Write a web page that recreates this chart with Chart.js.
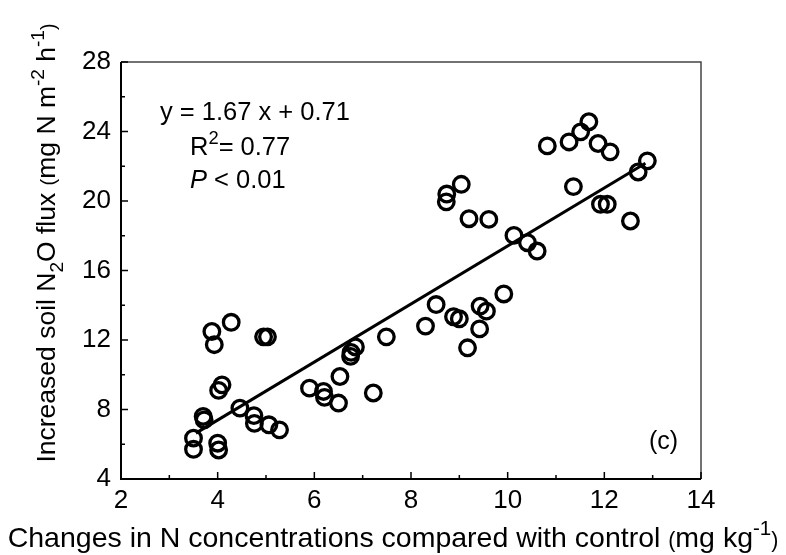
<!DOCTYPE html>
<html>
<head>
<meta charset="utf-8">
<script src="https://cdn.jsdelivr.net/npm/chart.js@4"></script>
<style>
  body { margin: 0; background: #fff; }
  canvas { display: block; }
</style>
</head>
<body>
<canvas id="chart" width="786" height="555"></canvas>
<script>
// Data
const nConc = [3.50, 3.50, 3.70, 3.72, 3.88, 3.93, 4.00, 4.02, 4.02, 4.09,
    4.28, 4.46, 4.75, 4.76, 4.95, 5.03, 5.06, 5.28, 5.90, 6.19,
    6.21, 6.50, 6.53, 6.75, 6.76, 6.85, 7.22, 7.49, 8.30, 8.52,
    8.73, 8.74, 8.88, 9.00, 9.04, 9.17, 9.20, 9.42, 9.43, 9.56,
    9.61, 9.92, 10.13, 10.41, 10.61, 10.82, 11.27, 11.36, 11.51, 11.68,
    11.87, 11.92, 12.06, 12.12, 12.54, 12.70, 12.89];
const n2oFlux = [6.35, 5.71, 7.60, 7.40, 12.49, 11.73, 6.06, 5.67, 9.10, 9.42,
    13.02, 8.08, 7.65, 7.20, 12.18, 12.18, 7.12, 6.83, 9.23, 9.04,
    8.70, 8.37, 9.90, 11.06, 11.29, 11.60, 8.95, 12.18, 12.80, 14.04,
    19.95, 20.40, 13.34, 13.22, 20.96, 11.55, 18.98, 12.64, 13.95, 13.66,
    18.94, 14.65, 18.02, 17.60, 17.12, 23.17, 23.40, 20.83, 23.98, 24.56,
    23.31, 19.81, 19.81, 22.83, 18.85, 21.67, 22.31];

// Fitted line y = 1.67 x + 0.71, drawn over the data range
const slope = 1.67;
const intercept = 0.71;
const fitX = [3.55, 12.85];
const fitY = fitX.map(x => slope * x + intercept);

const xTickLabels = [2, 4, 6, 8, 10, 12, 14];
const yTickLabels = [4, 8, 12, 16, 20, 24, 28];

const FONT = '"Liberation Sans", Arial, sans-serif';

// draws text made of normal / sub / sup pieces
function richText(ctx, parts, x, y, size, align) {
    const fonts = parts.map(p => {
        const s = p.k === 'n' ? size : (p.k === 'p' ? size * 0.75 : size * 0.72);
        return s + 'px ' + FONT;
    });
    let total = 0;
    parts.forEach((p, i) => { ctx.font = fonts[i]; total += ctx.measureText(p.t).width; });
    let cx = align === 'left' ? x : x - total / 2;
    ctx.textAlign = 'left';
    ctx.textBaseline = 'alphabetic';
    parts.forEach((p, i) => {
        ctx.font = fonts[i];
        let dy = 0;
        if (p.k === 'sub') dy = size * 0.3;
        if (p.k === 'sup') dy = -size * 0.42;
        ctx.fillText(p.t, cx, y + dy);
        cx += ctx.measureText(p.t).width;
    });
}

const framePlugin = {
    id: 'frame',
    afterDraw(chart) {
        const ctx = chart.ctx;
        const a = chart.chartArea;
        const xs = chart.scales.x, ys = chart.scales.y;
        ctx.save();
        // top/right border
        ctx.strokeStyle = '#444';
        ctx.lineWidth = 1.5;
        ctx.beginPath();
        ctx.moveTo(a.left, a.top); ctx.lineTo(a.right, a.top); ctx.lineTo(a.right, a.bottom);
        ctx.stroke();
        // axes
        ctx.strokeStyle = '#000';
        ctx.lineWidth = 2;
        ctx.beginPath();
        ctx.moveTo(a.left, a.top); ctx.lineTo(a.left, a.bottom); ctx.lineTo(a.right, a.bottom);
        ctx.stroke();
        // inward ticks
        ctx.lineWidth = 1.5;
        ctx.beginPath();
        xs.ticks.forEach(t => {
            const px = xs.getPixelForValue(t.value);
            const len = xTickLabels.includes(t.value) ? 7 : 4;
            ctx.moveTo(px, a.bottom); ctx.lineTo(px, a.bottom - len);
        });
        ys.ticks.forEach(t => {
            const py = ys.getPixelForValue(t.value);
            const len = yTickLabels.includes(t.value) ? 7 : 4;
            ctx.moveTo(a.left, py); ctx.lineTo(a.left + len, py);
        });
        ctx.stroke();

        ctx.fillStyle = '#000';
        // annotation
        richText(ctx, [{ t: 'y = 1.67 x + 0.71', k: 'n' }], 160, 120, 25.5, 'left');
        richText(ctx, [{ t: 'R', k: 'n' }, { t: '2', k: 'sup' }, { t: '= 0.77', k: 'n' }], 190, 155, 25.5, 'left');
        ctx.font = 'italic 25.5px ' + FONT;
        ctx.fillText('P', 190, 188);
        const pw = ctx.measureText('P ').width;
        ctx.font = '25.5px ' + FONT;
        ctx.fillText('< 0.01', 190 + pw, 188);
        ctx.font = '25px ' + FONT;
        ctx.fillText('(c)', 649, 449);

        // axis titles
        richText(ctx, [
            { t: 'Changes in N concentrations compared with control ', k: 'n' },
            { t: '(', k: 'p' }, { t: 'mg kg', k: 'n' }, { t: '-1', k: 'sup' }, { t: ')', k: 'p' }
        ], 393, 547, 28.5, 'center');
        ctx.translate(55, 243);
        ctx.rotate(-Math.PI / 2);
        richText(ctx, [
            { t: 'Increased soil N', k: 'n' }, { t: '2', k: 'sub' }, { t: 'O flux ', k: 'n' },
            { t: '(', k: 'p' }, { t: 'mg N m', k: 'n' }, { t: '-2', k: 'sup' }, { t: ' h', k: 'n' },
            { t: '-1', k: 'sup' }, { t: ')', k: 'p' }
        ], 0, 0, 26.5, 'center');
        ctx.restore();
    }
};

new Chart(document.getElementById('chart'), {
    type: 'scatter',
    data: {
        datasets: [
            {
                label: 'Observed',
                data: nConc.map((x, i) => ({ x: x, y: n2oFlux[i] })),
                pointStyle: 'circle',
                pointRadius: 7.8,
                pointBorderWidth: 3.3,
                borderColor: '#000',
                backgroundColor: 'rgba(0,0,0,0)',
                pointHoverRadius: 7.8
            },
            {
                type: 'line',
                label: 'Fit',
                data: fitX.map((x, i) => ({ x: x, y: fitY[i] })),
                borderColor: '#000',
                borderWidth: 3,
                pointRadius: 0,
                fill: false
            }
        ]
    },
    options: {
        responsive: false,
        animation: false,
        layout: { padding: { left: 0, right: 85, top: 62, bottom: 0 } },
        plugins: { legend: { display: false }, tooltip: { enabled: false } },
        scales: {
            x: {
                type: 'linear', min: 2, max: 14,
                ticks: {
                    stepSize: 1, autoSkip: false, maxRotation: 0, padding: 6, color: '#000',
                    font: { family: FONT, size: 26 },
                    callback: v => xTickLabels.includes(v) ? String(v) : ''
                },
                grid: { display: false, drawTicks: false },
                border: { display: false },
                afterFit: s => { s.height = 76; }
            },
            y: {
                type: 'linear', min: 4, max: 28,
                ticks: {
                    stepSize: 2, autoSkip: false, padding: 10, color: '#000',
                    font: { family: FONT, size: 26 },
                    callback: v => yTickLabels.includes(v) ? String(v) : ''
                },
                grid: { display: false, drawTicks: false },
                border: { display: false },
                afterFit: s => { s.width = 121; }
            }
        }
    },
    plugins: [framePlugin]
});
</script>
</body>
</html>
